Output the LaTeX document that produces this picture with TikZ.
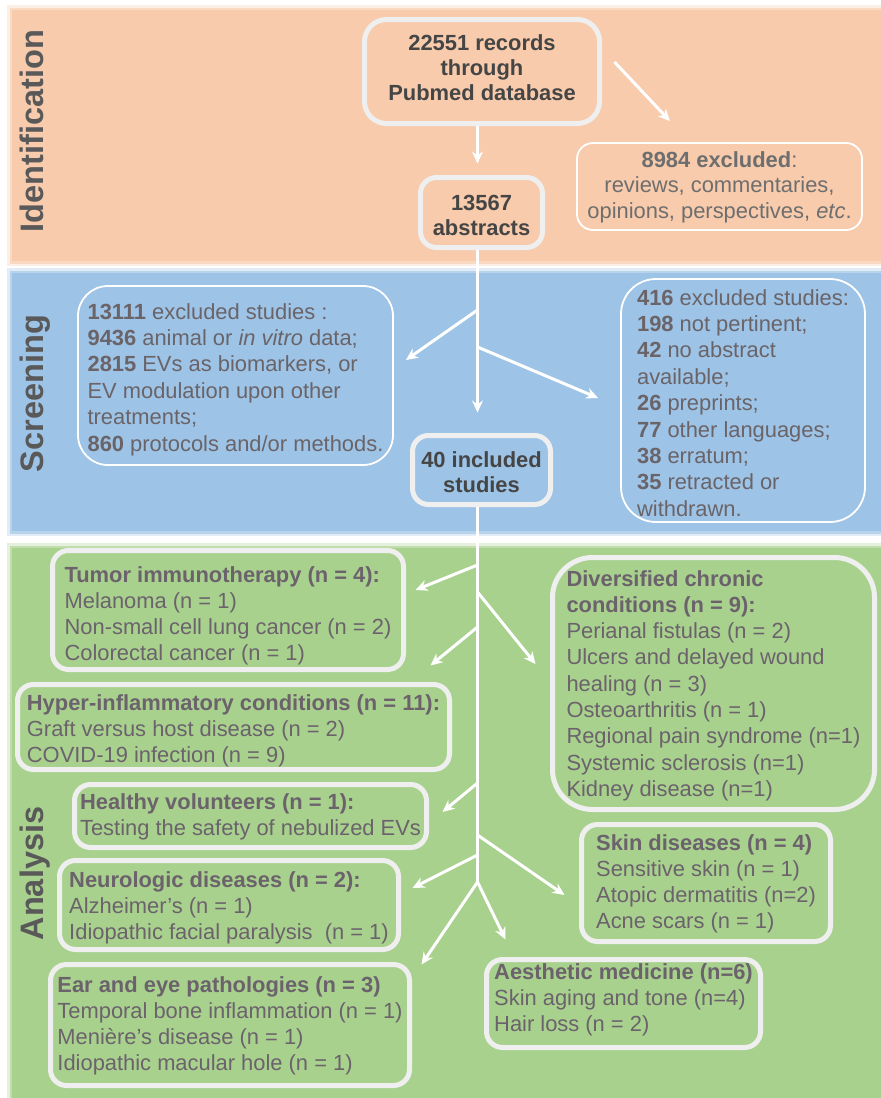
\documentclass[tikz,border=0pt]{standalone}
\usepackage{fontspec}
\setmainfont{Liberation Sans}
\usetikzlibrary{arrows.meta}
\definecolor{orangebg}{HTML}{F7CBAC}
\definecolor{bluebg}{HTML}{9DC3E6}
\definecolor{greenbg}{HTML}{A9D18E}
\definecolor{boxline}{HTML}{EFEFEF}
\definecolor{lbltext}{HTML}{595959}
\definecolor{darktext}{HTML}{454545}
\definecolor{midtext}{HTML}{6E6E6E}
\definecolor{bluetext}{HTML}{6A6468}
\definecolor{greentext}{HTML}{6B626C}
\newcommand{\fst}[1]{\rule{0pt}{#1pt}}
\newcommand{\lst}[1]{\rule[-#1pt]{0pt}{0pt}}
\begin{document}
\begin{tikzpicture}[x=1pt,y=-1pt,
  thickbox/.style={draw=boxline, line width=5pt, rounded corners=16pt, inner sep=0pt,
    align=left, font=\fontsize{21.9}{26}\selectfont, text=greentext},
  thinbox/.style={draw=white, line width=1.8pt, rounded corners=16pt, inner sep=0pt,
    align=left, font=\fontsize{21.9}{26.4}\selectfont, text=bluetext},
  arr/.style={draw=white, line width=3pt, -{Stealth[length=12pt,width=11pt]}},
  trunk/.style={draw=white, line width=3pt},
  lbl/.style={rotate=90, anchor=base, font=\bfseries\fontsize{32.5}{36}\selectfont, text=lbltext}]
\useasboundingbox (0,0) rectangle (881,1098);
\fill[white] (0,0) rectangle (881,1098);
% bands with soft edges
\foreach \c/\ya/\yb in {orangebg/8/263, bluebg/271/533, greenbg/546/1106}{
  \fill[\c, opacity=0.3] (7,\ya-3) rectangle (890,\yb+3);
  \fill[\c, opacity=0.6] (9.5,\ya-0.5) rectangle (890,\yb+0.5);
  \fill[\c] (12,\ya+2) rectangle (890,\yb-2);
}
% band labels
\node[lbl] (lid) at (43,131) {Identification};
\node[lbl] (lsc) at (43,393.5) {Screening};
\node[lbl] (lan) at (43,873.5) {Analysis};

% Identification
\node[thickbox, rounded corners=22pt, align=center, text=darktext, font=\bfseries\fontsize{21.9}{25}\selectfont,
  minimum width=235pt, minimum height=104pt] (rec) at (482,71.5)
  {\fst{17}22551 records\\through\\Pubmed database\lst{10}};
\node[thickbox, align=center, text=darktext, font=\bfseries\fontsize{21.9}{25}\selectfont,
  minimum width=122pt, minimum height=70pt] (abs) at (481.5,212.5)
  {\fst{25}13567\\abstracts\lst{5}};
\node[thinbox, align=center, text=midtext, font=\fontsize{21.9}{25.5}\selectfont,
  minimum width=285pt, minimum height=87pt] (exc1) at (719.5,186.5)
  {\fst{17}\textbf{8984 excluded}:\\reviews, commentaries,\\opinions, perspectives, \textit{etc}.\lst{5}};

% Screening
\node[thinbox, rounded corners=30pt, minimum width=315pt, minimum height=179pt] (ex2) at (235.5,375.5)
  {\fst{24}\textbf{13111} excluded studies :\\
   \textbf{9436} animal or \textit{in vitro} data;\\
   \textbf{2815} EVs as biomarkers, or\\
   EV modulation upon other\\
   treatments;\\
   \textbf{860} protocols and/or methods.\lst{5}};
\node[thickbox, align=center, text=darktext, font=\bfseries\fontsize{21.9}{25}\selectfont,
  minimum width=138pt, minimum height=69pt] (inc) at (481.5,470)
  {\fst{24}40 included\\studies\lst{5}};
\node[thinbox, rounded corners=35pt, minimum width=244pt, minimum height=243pt] (ex3) at (743,400.5)
  {\fst{25.2}\textbf{416} excluded studies:\\
   \textbf{198} not pertinent;\\
   \textbf{42} no abstract\\
   available;\\
   \textbf{26} preprints;\\
   \textbf{77} other languages;\\
   \textbf{38} erratum;\\
   \textbf{35} retracted or\\
   withdrawn.\lst{5}};

% Analysis
\node[thickbox, minimum width=351pt, minimum height=119pt] (tumor) at (228,610)
  {\fst{27}\textbf{Tumor immunotherapy (n = 4):}\\
   Melanoma (n = 1)\\
   Non-small cell lung cancer (n = 2)\\
   Colorectal cancer (n = 1)\lst{5}};
\node[thickbox, minimum width=432pt, minimum height=85pt] (hyper) at (233.5,727)
  {\fst{23}\textbf{Hyper-inflammatory conditions (n = 11):}\\
   Graft versus host disease (n = 2)\\
   COVID-19 infection (n = 9)\lst{5}};
\node[thickbox, minimum width=352pt, minimum height=63pt] (healthy) at (250.5,816)
  {\fst{17}\textbf{Healthy volunteers (n = 1):}\\
   Testing the safety of nebulized EVs\lst{5}};
\node[thickbox, minimum width=339pt, minimum height=89pt] (neuro) at (229,905)
  {\fst{21}\textbf{Neurologic diseases (n = 2):}\\
   Alzheimer’s (n = 1)\\
   Idiopathic facial paralysis\ \ (n = 1)\lst{5}};
\node[thickbox, minimum width=359pt, minimum height=121pt] (ear) at (230,1025)
  {\fst{17}\textbf{Ear and eye pathologies (n = 3)}\\
   Temporal bone inflammation (n = 1)\\
   Menière's disease (n = 1)\\
   Idiopathic macular hole (n = 1)\lst{5}};
\node[thickbox, rounded corners=40pt, font=\fontsize{21.9}{26.3}\selectfont,
  minimum width=322pt, minimum height=252pt] (divers) at (713.5,683.5)
  {\fst{20.4}\textbf{Diversified chronic}\\
   \textbf{conditions (n = 9):}\\
   Perianal fistulas (n = 2)\\
   Ulcers and delayed wound\\
   healing (n = 3)\\
   Osteoarthritis (n = 1)\\
   Regional pain syndrome (n=1)\\
   Systemic sclerosis (n=1)\\
   Kidney disease (n=1)\lst{5}};
\node[thickbox, minimum width=249pt, minimum height=117pt] (skin) at (706,883)
  {\fst{17}\textbf{Skin diseases (n = 4)}\\
   Sensitive skin (n = 1)\\
   Atopic dermatitis (n=2)\\
   Acne scars (n = 1)\lst{5}};
\node[thickbox, minimum width=274pt, minimum height=88pt] (aesth) at (623.5,1003.5)
  {\fst{17}\textbf{Aesthetic medicine (n=6)}\\
   Skin aging and tone (n=4)\\
   Hair loss (n = 2)\lst{14}};

% trunk coordinates
\coordinate (T) at (477.5,0);
\coordinate (S1) at (477.5,310);
\coordinate (S2) at (477.5,347);
\coordinate (A1) at (477.5,565);
\coordinate (A2) at (477.5,627);
\coordinate (A3) at (477.5,592);
\coordinate (A4) at (477.5,783);
\coordinate (A5) at (477.5,855);
\coordinate (A6) at (477.5,835);
\coordinate (TE) at (477.5,882);

% connectors
\draw[arr, shorten >=11.5pt] (rec.south -| T) -- (abs.north -| T);
\draw[arr] ([shift={(12.5,-9.5)}]rec.east) -- ([shift={(-49.5,-21)}]exc1.north);
\draw[arr, shorten >=20.5pt] (abs.south -| T) -- (inc.north -| T);
\draw[arr] (S1) -- ([shift={(12,-15.5)}]ex2.east);
\draw[arr] (S2) -- ([shift={(-22,-2.5)}]ex3.west);
\draw[trunk] (inc.south -| T) -- (TE);
\draw[arr] (A1) -- ([shift={(9.5,-20)}]tumor.east);
\draw[arr] (A2) -- ([shift={(-21.5,-16.5)}]hyper.north east);
\draw[arr] (A3) -- ([shift={(-14.5,-19.5)}]divers.west);
\draw[arr] (A4) -- ([shift={(13.5,-4)}]healthy.east);
\draw[arr] (A5) -- ([shift={(11.5,-17)}]neuro.east);
\draw[arr] (A6) -- ([shift={(-14.5,12)}]skin.west);
\draw[arr] (TE) -- ([shift={(9.5,2.5)}]ear.north east);
\draw[arr] (TE) -- ([shift={(21.5,-17.5)}]aesth.north west);
\end{tikzpicture}
\end{document}
